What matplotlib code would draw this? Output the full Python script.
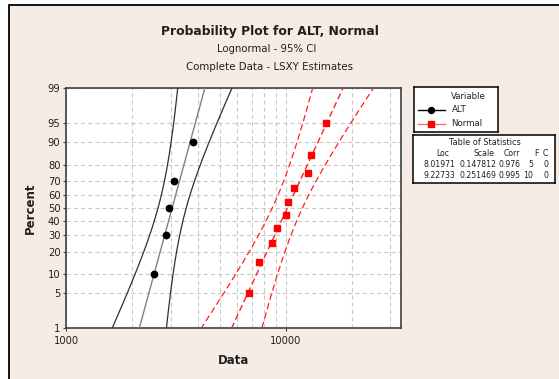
import math
from statistics import NormalDist
import numpy as np
import matplotlib
matplotlib.use("Agg")
import matplotlib.pyplot as plt
from matplotlib.patches import Rectangle

plt.rcParams['font.family'] = ['DejaVu Sans']
plt.rcParams['lines.scale_dashes'] = False

# ---------------- data ----------------
alt_values = [2523, 2843, 2953, 3101, 3773]
alt_percent = [10, 30, 50, 70, 90]
normal_values = [6830, 7583, 8664, 9100, 10063, 10211, 10909, 12593, 13078, 15207]
normal_percent = [5, 15, 25, 35, 45, 55, 65, 75, 85, 95]

series_names = ["ALT", "Normal"]
fit_loc = [8.01971, 9.22733]
fit_scale = [0.147812, 0.251469]
fit_corr = [0.976, 0.995]
fit_F = [5, 10]
fit_C = [0, 0]
ci_a = [0.26, 0.103]
ci_b = [0.13, 0.058]

y_ticks = [1, 5, 10, 20, 30, 40, 50, 60, 70, 80, 90, 95, 99]
x_ticks = [1000, 10000]
x_minor = [2000, 3000, 4000, 5000, 6000, 7000, 8000, 9000, 20000, 30000]
x_limits = (1000, 33400)

# ---------------- helpers ----------------
ND = NormalDist()
_inv = np.vectorize(lambda p: ND.inv_cdf(min(max(p / 100.0, 1e-9), 1 - 1e-9)), otypes=[float])
_cdf = np.vectorize(lambda z: 50.0 * (1.0 + math.erf(z / math.sqrt(2.0))), otypes=[float])


def fwd(p):
    return _inv(np.asarray(p, dtype=float))


def inv(z):
    return _cdf(np.asarray(z, dtype=float))


W, H = 559, 379
fig = plt.figure(figsize=(W / 100, H / 100), dpi=100)
fig.patch.set_facecolor('white')

BG = '#F5ECE6'


def fx(x):
    return x / W


def fy(y):
    return 1 - y / H


# background frame
bg = Rectangle((fx(9), fy(420)), (620 - 9) / W, (420 - 5) / H,
               transform=fig.transFigure, facecolor=BG,
               edgecolor='black', lw=1.3, zorder=-10)
fig.add_artist(bg)

# ---------------- main axes ----------------
L, R, T, B = 66, 400.7, 88, 328.3
ax = fig.add_axes([fx(L), fy(B), (R - L) / W, (B - T) / H])
ax.set_facecolor('white')
ax.set_xscale('log')
ax.set_yscale('function', functions=(fwd, inv))
ax.set_xlim(*x_limits)
ax.set_ylim(1, 99)

ax.set_xticks(x_ticks)
ax.set_xticklabels([str(v) for v in x_ticks])
ax.set_xticks(x_minor, minor=True)
ax.set_xticklabels([], minor=True)
ax.set_yticks(y_ticks)
ax.set_yticklabels([str(v) for v in y_ticks])
ax.yaxis.set_minor_locator(matplotlib.ticker.NullLocator())

grid_kw = dict(color='#C8C8C8', lw=0.8, linestyle=(0, (3.0, 2.2)))
ax.grid(True, which='both', axis='x', **grid_kw)
ax.grid(True, which='major', axis='y', **grid_kw)
ax.set_axisbelow(True)

ax.tick_params(axis='both', which='major', direction='out', length=2.5,
               width=0.8, color='#404040', labelsize=7.2, pad=1.5,
               labelcolor='#202020')
ax.tick_params(axis='x', which='minor', length=0)
ax.tick_params(axis='x', which='major', pad=3)
for s in ax.spines.values():
    s.set_color('#404040')
    s.set_linewidth(1.2)

zgrid = np.linspace(-2.5, 2.5, 400)
pgrid = inv(zgrid)

colors_fit = ['#808080', '#FF2020']
colors_ci = ['#303030', '#FF2020']
styles = ['-', (0, (4.5, 2.5))]
for i in range(2):
    mu, sg = fit_loc[i], fit_scale[i]
    center = np.exp(mu + sg * zgrid)
    hw = 1.96 * sg * np.sqrt(ci_a[i] + ci_b[i] * zgrid ** 2)
    lower = np.exp(mu + sg * zgrid - hw)
    upper = np.exp(mu + sg * zgrid + hw)
    ax.plot(center, pgrid, color=colors_fit[i], lw=1.0, linestyle=styles[i], zorder=3)
    ax.plot(lower, pgrid, color=colors_ci[i], lw=0.9, linestyle=styles[i], zorder=3)
    ax.plot(upper, pgrid, color=colors_ci[i], lw=0.9, linestyle=styles[i], zorder=3)

ax.plot(alt_values, alt_percent, linestyle='none', marker='o', ms=4.6,
        color='black', zorder=5)
ax.plot(normal_values, normal_percent, linestyle='none', marker='s', ms=5.0,
        color='#FF0000', mec='#FF0000', zorder=5)

ax.set_xlabel('Data', fontsize=8.5, fontweight='bold', labelpad=6, color='#202020')
ax.set_ylabel('Percent', fontsize=8.5, fontweight='bold', labelpad=8, color='#202020')

# ---------------- titles ----------------
fig.text(fx(270), fy(32), 'Probability Plot for ALT, Normal', ha='center', va='center',
         fontsize=8.9, fontweight='bold', color='#202020')
fig.text(fx(267), fy(49.5), 'Lognormal - 95% CI', ha='center', va='center',
         fontsize=7.3, color='#202020')
fig.text(fx(270), fy(66.5), 'Complete Data - LSXY Estimates', ha='center', va='center',
         fontsize=7.4, color='#202020')

# ---------------- legend panel ----------------
lx0, ly0, lx1, ly1 = 414, 87, 497.7, 132.3
lax = fig.add_axes([fx(lx0), fy(ly1), (lx1 - lx0) / W, (ly1 - ly0) / H])
lax.set_xlim(lx0, lx1)
lax.set_ylim(ly1, ly0)
lax.set_xticks([])
lax.set_yticks([])
lax.set_facecolor('white')
for s in lax.spines.values():
    s.set_color('black')
    s.set_linewidth(1.1)
lax.text(468, 96.5, 'Variable', ha='center', va='center', fontsize=6.2, color='#202020')
lax.plot([418, 445], [110, 110], color='black', lw=1.0)
lax.plot([431], [110], marker='o', ms=4.3, color='black')
lax.text(451.5, 110, series_names[0], ha='left', va='center', fontsize=6.2, color='#202020')
lax.plot([418, 445], [123.5, 123.5], color='#FF7070', lw=1.0)
lax.plot([431], [123.5], marker='s', ms=4.6, color='#FF0000')
lax.text(451.5, 123.5, series_names[1], ha='left', va='center', fontsize=6.2, color='#202020')

# ---------------- table panel ----------------
tx0, ty0, tx1, ty1 = 413.3, 135, 555.3, 183
tax = fig.add_axes([fx(tx0), fy(ty1), (tx1 - tx0) / W, (ty1 - ty0) / H])
tax.set_xlim(tx0, tx1)
tax.set_ylim(ty1, ty0)
tax.set_xticks([])
tax.set_yticks([])
tax.set_facecolor('white')
for s in tax.spines.values():
    s.set_color('black')
    s.set_linewidth(1.1)
fs = 5.6
tax.text(485, 142.5, 'Table of Statistics', ha='center', va='center', fontsize=5.9, color='#202020')
hdr_y = 153.5
tax.text(449, hdr_y, 'Loc', ha='right', va='center', fontsize=fs, color='#202020')
tax.text(494, hdr_y, 'Scale', ha='right', va='center', fontsize=fs, color='#202020')
tax.text(520, hdr_y, 'Corr', ha='right', va='center', fontsize=fs, color='#202020')
tax.text(536, hdr_y, 'F', ha='center', va='center', fontsize=fs, color='#202020')
tax.text(545.5, hdr_y, 'C', ha='center', va='center', fontsize=fs, color='#202020')
for k, yy in enumerate([164.5, 175.5]):
    tax.text(455.5, yy, f'{fit_loc[k]:.5f}', ha='right', va='center', fontsize=fs, color='#202020')
    tax.text(496, yy, f'{fit_scale[k]:.6f}', ha='right', va='center', fontsize=fs, color='#202020')
    tax.text(520.5, yy, f'{fit_corr[k]:.3f}', ha='right', va='center', fontsize=fs, color='#202020')
    tax.text(533, yy, f'{fit_F[k]}', ha='right', va='center', fontsize=fs, color='#202020')
    tax.text(545.5, yy, f'{fit_C[k]}', ha='center', va='center', fontsize=fs, color='#202020')

fig.savefig('out.png', dpi=100, facecolor=fig.get_facecolor())
